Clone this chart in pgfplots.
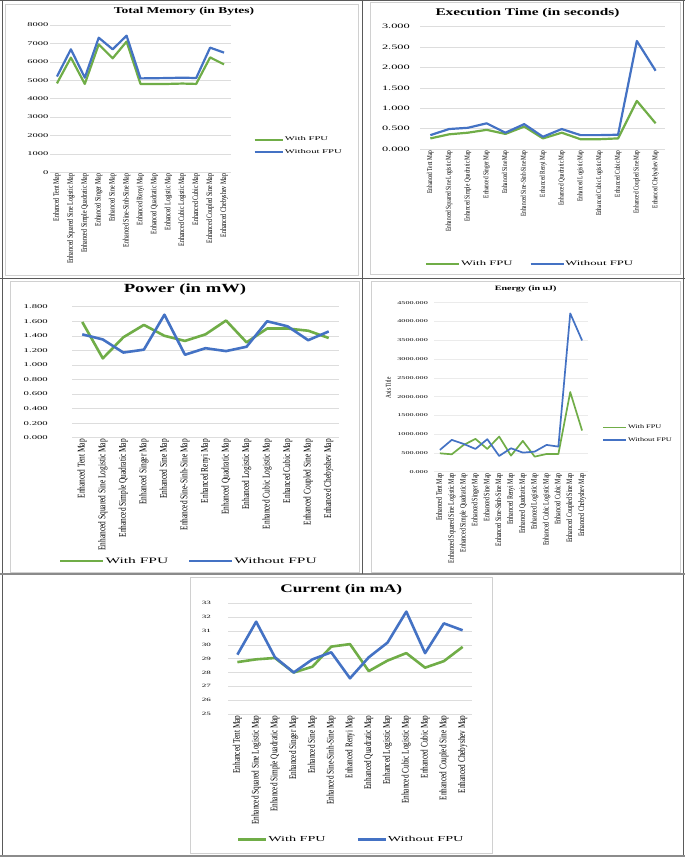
\documentclass[border=0pt]{standalone}
\usepackage{pgfplots}
\pgfplotsset{compat=1.18}
\usepackage{pgfplotstable}
\usepackage{fontspec}
\setmainfont{Liberation Serif}
\newfontfamily\titlefont[FakeStretch=1.5]{Liberation Serif}
\newfontfamily\wfont[FakeStretch=1.85]{Liberation Serif}
\newfontfamily\lfont[FakeStretch=0.72]{Liberation Serif}
\newcommand\fs[1]{\fontsize{#1}{#1}\selectfont}
\definecolor{gfpu}{HTML}{70AD47}
\definecolor{bfpu}{HTML}{4472C4}
\definecolor{gridc}{HTML}{DDDDDD}
\definecolor{sepc}{HTML}{5A5A5A}
\definecolor{framec}{HTML}{D0D0D0}

\pgfplotstableread{
x with without
0 4830 5200
1 6230 6680
2 4800 5140
3 6950 7310
4 6190 6680
5 7100 7420
6 4800 5100
7 4800 5110
8 4800 5120
9 4820 5140
10 4800 5120
11 6240 6770
12 5860 6500
}\memtab
\pgfplotstableread{
x with without
0 0.26 0.34
1 0.36 0.49
2 0.40 0.52
3 0.47 0.63
4 0.37 0.40
5 0.55 0.61
6 0.26 0.30
7 0.40 0.49
8 0.24 0.34
9 0.24 0.34
10 0.26 0.35
11 1.18 2.65
12 0.63 1.92
}\timetab
\pgfplotstableread{
x with without
0 1.59 1.42
1 1.09 1.35
2 1.38 1.17
3 1.55 1.21
4 1.40 1.69
5 1.33 1.14
6 1.42 1.23
7 1.61 1.19
8 1.31 1.25
9 1.50 1.60
10 1.50 1.53
11 1.47 1.34
12 1.37 1.46
}\powtab
\pgfplotstableread{
x with without
0 490 580
1 463 847
2 713 740
3 873 606
4 606 865
5 936 419
6 428 624
7 820 508
8 401 535
9 472 713
10 472 668
11 2121 4215
12 1096 3494
}\entab
\pgfplotstableread{
x with without
0 28.75 29.29
1 28.95 31.67
2 29.05 29.10
3 28.00 28.00
4 28.42 28.95
5 29.87 29.46
6 30.05 27.58
7 28.10 29.10
8 28.86 30.16
9 29.40 32.40
10 28.35 29.40
11 28.82 31.55
12 29.85 31.05
}\curtab

\pgfplotsset{
  catlabels/.style={xticklabels={Enhanced Tent Map, Enhanced Squared Sine Logistic Map, Enhanced Simple Quadratic Map, Enhanced Singer Map, Enhanced Sine Map, Enhanced Sine-Sinh-Sine Map, Enhanced Renyi Map, Enhanced Quadratic Map, Enhanced Logistic Map, Enhanced Cubic Logistic Map, Enhanced Cubic Map, Enhanced Coupled Sine Map, Enhanced Chebyshev Map}},
  panel/.style={scale only axis, anchor=north west, xmin=-0.5, xmax=12.5,
    xtick={0,...,12}, catlabels,
    axis line style={draw=none}, major tick length=0pt,
    ymajorgrids, grid style={draw=gridc, line width=0.6bp},
    xticklabel style={rotate=90, anchor=east, inner sep=1.2bp},
    yticklabel style={anchor=east, inner sep=0pt},
    /pgf/number format/assume math mode=true,
    legend cell align=left,
    legend style={draw=none, fill=none, inner sep=0pt, nodes={inner sep=0.8bp}},
    clip=false},
  wl/.style={gfpu, line width=2.2bp, mark=none, line join=round},
  bl/.style={bfpu, line width=2.2bp, mark=none, line join=round},
}

\begin{document}
\begin{tikzpicture}
\useasboundingbox (0,0) rectangle (685bp,-857bp);
\fill[white] (0,0) rectangle (685bp,-857bp);

% Panel 1: Total Memory
\begin{axis}[panel, at={(50bp,-25bp)}, width=181bp, height=147.3bp,
  ymin=0, ymax=8000, ytick={0,1000,...,8000},
  /pgf/number format/1000 sep={},
  yticklabel style={font=\wfont\fs{5.7}, xshift=-1.5bp},
  xticklabel style={font=\lfont\fs{8.3}},
  legend style={at={(1.123,0.1785)}, anchor=west, font=\wfont\fs{5.8}, row sep=5.5bp},
  legend image code/.code={\draw[#1] (0bp,0bp) -- (28.5bp,0bp);}]
\addplot[wl] table[x=x,y=with]{\memtab};
\addplot[bl] table[x=x,y=without]{\memtab};
\legend{With FPU, Without FPU}
\end{axis}

% Panel 2: Execution Time
\begin{axis}[panel, at={(420bp,-26.7bp)}, width=245bp, height=122.3bp,
  xmin=-0.55,
  ymin=0, ymax=3, ytick={0,0.5,...,3},
  /pgf/number format/.cd, fixed, fixed zerofill, precision=3, /pgfplots/.cd,
  yticklabel style={font=\wfont\fs{6.7}, xshift=-10bp},
  xticklabel style={font=\lfont\fs{7.5}},
  legend columns=2,
  legend style={at={(0.0204,-0.940)}, anchor=west, font=\wfont\fs{6.9},
    /tikz/every even column/.append style={column sep=16bp}},
  legend image code/.code={\draw[#1] (0bp,0bp) -- (33bp,0bp);}]
\addplot[wl] table[x=x,y=with]{\timetab};
\addplot[bl] table[x=x,y=without]{\timetab};
\legend{With FPU, Without FPU}
\end{axis}

% Panel 3: Power
\begin{axis}[panel, at={(72bp,-306.7bp)}, width=267bp, height=131bp,
  ymin=0, ymax=1.8, ytick={0,0.2,...,1.8},
  /pgf/number format/.cd, fixed, fixed zerofill, precision=3, /pgfplots/.cd,
  yticklabel style={font=\wfont\fs{5.8}, xshift=-24bp},
  xticklabel style={font=\lfont\fs{10.3}},
  legend columns=2,
  legend style={at={(-0.0487,-0.941)}, anchor=west, font=\wfont\fs{8.4},
    /tikz/every even column/.append style={column sep=19bp}},
  legend image code/.code={\draw[#1] (0bp,0bp) -- (43bp,0bp);}]
\addplot[wl, line width=2.6bp] table[x=x,y=with]{\powtab};
\addplot[bl, line width=2.6bp] table[x=x,y=without]{\powtab};
\legend{With FPU, Without FPU}
\end{axis}

% Panel 4: Energy
\begin{axis}[panel, at={(434bp,-302.7bp)}, width=154bp, height=169bp,
  ymin=0, ymax=4500, ytick={0,500,...,4500},
  /pgf/number format/.cd, fixed, fixed zerofill, precision=3, 1000 sep={}, /pgfplots/.cd,
  yticklabel style={font=\wfont\fs{4.4}, xshift=-6bp},
  xticklabel style={font=\lfont\fs{8.3}},
  grid style={draw=gridc!60, line width=0.5bp},
  ylabel={Axis Title},
  ylabel style={at={(axis description cs:-0.297,0.495)}, anchor=center, font=\lfont\fs{7.5}},
  legend style={at={(1.093,0.224)}, anchor=west, font=\titlefont\fs{5.5}, row sep=5.5bp},
  legend image code/.code={\draw[#1] (0bp,0bp) -- (23bp,0bp);}]
\addplot[wl, line width=1.7bp] table[x=x,y=with]{\entab};
\addplot[bl, line width=1.7bp] table[x=x,y=without]{\entab};
\legend{With FPU, Without FPU}
\end{axis}

% Panel 5: Current
\begin{axis}[panel, at={(228bp,-603.3bp)}, width=244bp, height=110.7bp,
  ymin=25, ymax=33, ytick={25,26,...,33},
  yticklabel style={font=\wfont\fs{4.9}, xshift=-17bp},
  xticklabel style={font=\lfont\fs{10.1}},
  legend columns=2,
  legend style={at={(0.0357,-1.132)}, anchor=west, font=\wfont\fs{7.7},
    /tikz/every even column/.append style={column sep=30bp}},
  legend image code/.code={\draw[#1] (0bp,0bp) -- (28bp,0bp);}]
\addplot[wl, line width=2.6bp] table[x=x,y=with]{\curtab};
\addplot[bl, line width=2.6bp] table[x=x,y=without]{\curtab};
\legend{With FPU, Without FPU}
\end{axis}

\begin{scope}[x=1bp,y=-1bp]
% titles
\node[font=\titlefont\bfseries\fs{9}] at (184,11.5) {Total Memory (in Bytes)};
\node[font=\titlefont\bfseries\fs{10.25}] at (527.5,12.7) {Execution Time (in seconds)};
\node[font=\titlefont\bfseries\fs{12.5}] at (185,290) {Power (in mW)};
\node[font=\titlefont\bfseries\fs{6.7}] at (525.7,289.3) {Energy (in uJ)};
\node[font=\titlefont\bfseries\fs{11.6}] at (341.3,589.3) {Current (in mA)};
% light chart frames
\draw[framec, line width=0.6bp] (5,4) rectangle (358.5,275);
\draw[framec, line width=0.6bp] (370.7,2.5) rectangle (680,274.3);
\draw[framec, line width=0.6bp] (10,281) rectangle (359,572);
\draw[framec, line width=0.6bp] (371,281) rectangle (680.7,572);
\draw[framec, line width=0.6bp] (190,577) rectangle (492.7,853);
% separators
\draw[sepc, line width=0.9bp] (0,0.7) -- (685,0.7);
\draw[sepc, line width=0.9bp] (2,0) -- (2,857);
\draw[sepc, line width=0.9bp] (683,0) -- (683,857);
\draw[sepc, line width=1bp] (0,278.3) -- (685,278.3);
\draw[sepc!70, line width=1.2bp] (0,574) -- (685,574);
\draw[sepc, line width=1bp] (362,0) -- (362,574);
\draw[sepc!70, line width=2bp] (0,855.5) -- (685,855.5);
\end{scope}
\end{tikzpicture}
\end{document}
